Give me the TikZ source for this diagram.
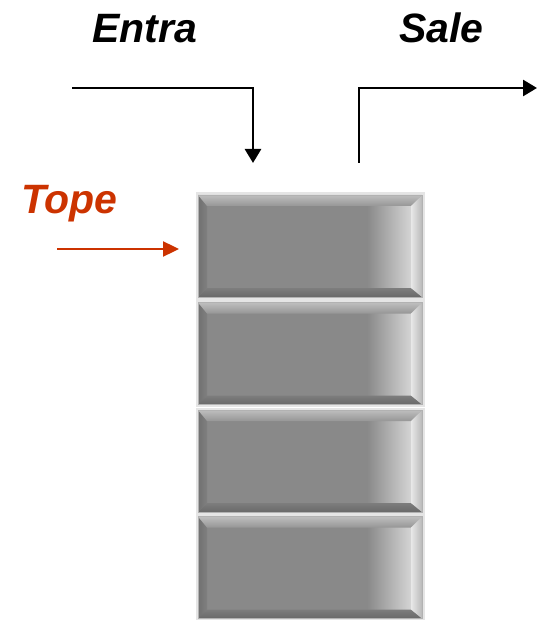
\documentclass[tikz,border=0pt]{standalone}
\usepackage{fontspec}
\setmainfont{Liberation Sans}
\usetikzlibrary{arrows.meta}
\definecolor{boxgray}{RGB}{137,137,137}
\definecolor{bvtopA}{RGB}{190,190,190}
\definecolor{bvtopB}{RGB}{150,150,150}
\definecolor{bvbotA}{RGB}{125,125,125}
\definecolor{bvbotB}{RGB}{105,105,105}
\definecolor{bvleftA}{RGB}{112,112,112}
\definecolor{bvleftB}{RGB}{128,128,128}
\definecolor{bvrightA}{RGB}{232,232,232}
\definecolor{bvrightB}{RGB}{185,185,185}
\definecolor{topered}{RGB}{204,51,0}
\tikzset{
  x=1pt, y=1pt,
  labeltext/.style={font=\fontsize{41}{48}\selectfont\bfseries\itshape, inner sep=0, anchor=base west},
  flowarrow/.style={line width=2.7pt, -{Triangle[width=16pt,length=14pt]}},
  topearrow/.style={topered, line width=2.4pt, -{Triangle[width=15pt,length=16pt]}},
  stackbox/.style={minimum width=224pt, minimum height=102pt, inner sep=0, outer sep=0,
    fill=boxgray, draw=black!30, line width=0.9pt,
    preaction={draw=black!10, line width=5pt},
    path picture={
      \coordinate (pnw) at (path picture bounding box.north west);
      \coordinate (pne) at (path picture bounding box.north east);
      \coordinate (psw) at (path picture bounding box.south west);
      \coordinate (pse) at (path picture bounding box.south east);
      \shade[left color=boxgray, right color=white!80!boxgray]
        ([shift={(-55pt,-11pt)}]pne) rectangle ([shift={(0pt,9pt)}]pse);
      \shade[left color=bvleftA, right color=bvleftB]
        (pnw) -- ([shift={(9pt,-11pt)}]pnw) -- ([shift={(9pt,9pt)}]psw) -- (psw) -- cycle;
      \shade[top color=bvbotA, bottom color=bvbotB]
        (psw) -- ([shift={(9pt,9pt)}]psw) -- ([shift={(-11pt,9pt)}]pse) -- (pse) -- cycle;
      \shade[top color=bvtopA, bottom color=bvtopB]
        (pnw) -- (pne) -- ([shift={(-11pt,-11pt)}]pne) -- ([shift={(9pt,-11pt)}]pnw) -- cycle;
      \shade[left color=bvrightA, right color=bvrightB]
        (pne) -- (pse) -- ([shift={(-11pt,9pt)}]pse) -- ([shift={(-11pt,-11pt)}]pne) -- cycle;
    }}
}
\begin{document}
\begin{tikzpicture}
\useasboundingbox (0,0) rectangle (537,-620);
\node[stackbox] (b1) at (310,-246) {};
\node[stackbox] (b2) at (310,-353.5) {};
\node[stackbox] (b3) at (310,-461) {};
\node[stackbox] (b4) at (310,-567.5) {};
\node[labeltext] (entra) at (92,-43) {Entra};
\node[labeltext] (sale) at (399,-43) {Sale};
\node[labeltext, text=topered] (tope) at (21,-213) {Tope};
\coordinate (e0) at (72,-88);
\coordinate (e1) at (253,-163);
\coordinate (s0) at (359,-163);
\coordinate (s1) at (537,-88);
\coordinate (t0) at (57,-249);
\coordinate (t1) at (179,-249);
\draw[flowarrow] (e0) -| (e1);
\draw[flowarrow] (s0) |- (s1);
\draw[topearrow] (t0) -- (t1);
\end{tikzpicture}
\end{document}
